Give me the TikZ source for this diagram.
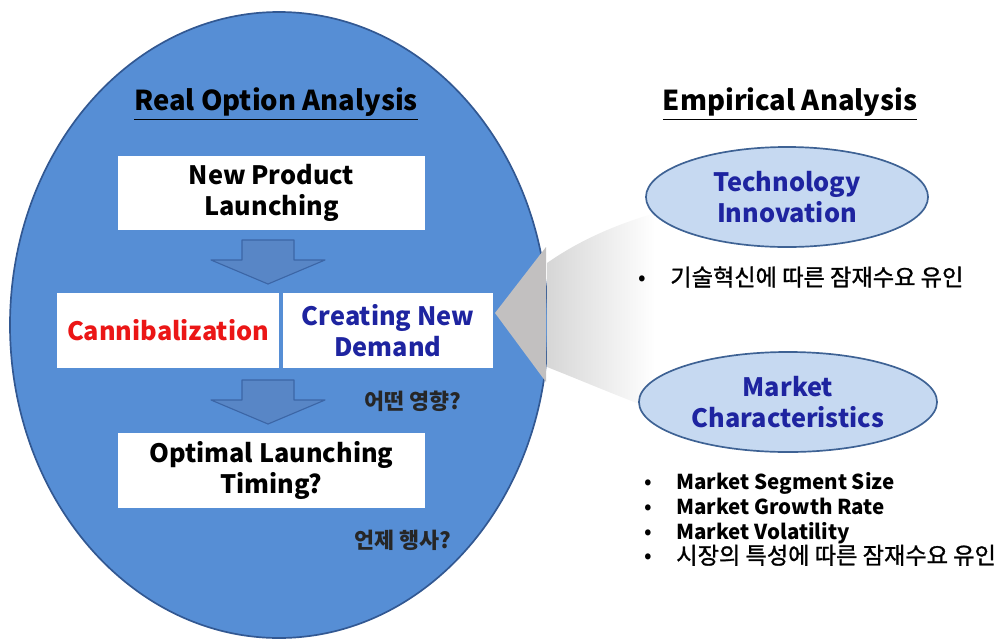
\documentclass[tikz,border=0pt]{standalone}
\usepackage{fontspec}
\setmainfont{Noto Sans CJK KR}
\newfontfamily\korfont{Noto Sans CJK KR}[FakeBold=1.2]
\usetikzlibrary{shapes.geometric}

\definecolor{roablue}{RGB}{86,142,213}
\definecolor{roaedge}{RGB}{50,88,146}
\definecolor{arrowblue}{RGB}{88,134,198}
\definecolor{arrowedge}{RGB}{60,102,166}
\definecolor{ovalfill}{RGB}{198,217,241}
\definecolor{ovaledge}{RGB}{62,98,148}
\definecolor{labelblue}{RGB}{30,36,160}
\definecolor{cannired}{RGB}{235,22,22}
\definecolor{wedgegray}{RGB}{194,192,192}

\newcommand{\itemdot}{\makebox[0.8cm][l]{\fontsize{16}{16}\selectfont\textbullet}}

\begin{document}
\begin{tikzpicture}[
	x=0.025cm, y=-0.025cm,
	line join=round,
	every node/.style={font=\bfseries\fontsize{18}{22.5}\selectfont, align=center},
	headline/.style={font=\bfseries\fontsize{19.5}{23}\selectfont},
	whitebox/.style={fill=white, inner sep=0pt},
	oval/.style={ellipse, draw=ovaledge, line width=1.2pt, fill=ovalfill, text=labelblue, inner sep=0pt},
	note/.style={font=\bfseries\fontsize{15.5}{18}\selectfont, text=black!85},
	bullets/.style={font=\fontsize{14.6}{17.7}\selectfont, align=left, anchor=west, inner sep=0pt},
	downarrow/.pic={\draw[fill=arrowblue, draw=arrowedge, line width=0.8pt]
		(-26,0) -- (26,0) -- (26,20) -- (57,20) -- (0,44) -- (-57,20) -- (-26,20) -- cycle;}
	]

\useasboundingbox (0,0) rectangle (1008,640);

% the real option oval
\draw[fill=roablue, draw=roaedge, line width=1.2pt] (279,325) ellipse [x radius=269, y radius=313];

% grey wedge opening to the right
\fill[wedgegray] (495,313) -- (546,247) -- (546,382) -- cycle;
\shade[left color=black!16, right color=white] (547,263) .. controls (580,240) and (615,225) .. (655,213)
	-- (655,410) .. controls (615,395) and (580,380) .. (547,367) -- cycle;

% left side
\node[headline] (roatitle) at (276,104) {\underline{Real Option Analysis}};
\node[whitebox, minimum width=7.68cm, minimum height=1.85cm] (launch) at (271.5,193) {New Product\\Launching};
\node[whitebox, minimum width=5.55cm, minimum height=1.875cm, text=cannired] (canni) at (168,330.5) {Cannibalization};
\node[whitebox, minimum width=5.25cm, minimum height=1.875cm, text=labelblue] (demand) at (388,330.5) {Creating New\\Demand};
\node[whitebox, minimum width=7.68cm, minimum height=1.875cm] (timing) at (271.5,470.5) {Optimal Launching\\Timing?};
\pic at (268,240) {downarrow};
\pic at (268,380) {downarrow};
\node[note] (effect) at (413,401) {어떤 영향?};
\node[note] (when) at (403,540) {언제 행사?};

% right side
\node[headline] (eatitle) at (790,104) {\underline{Empirical Analysis}};
\node[oval, minimum width=7.05cm, minimum height=2.5cm] (tech) at (787,197) {Technology\\Innovation};
\node[bullets] (techlist) at (638,277) {\itemdot{\korfont\fontsize{16.5}{17.7}\selectfont 기술혁신에 따른 잠재수요 유인}};
\node[oval, minimum width=7.45cm, minimum height=2.5cm] (market) at (788,402) {Market\\Characteristics};
\node[bullets] (marketlist) at (644,519) {\itemdot\textbf{Market Segment Size}\\
	\itemdot\textbf{Market Growth Rate}\\
	\itemdot\textbf{Market Volatility}\\
	\itemdot{\korfont\fontsize{16.5}{17.7}\selectfont 시장의 특성에 따른 잠재수요 유인}};

\end{tikzpicture}
\end{document}
